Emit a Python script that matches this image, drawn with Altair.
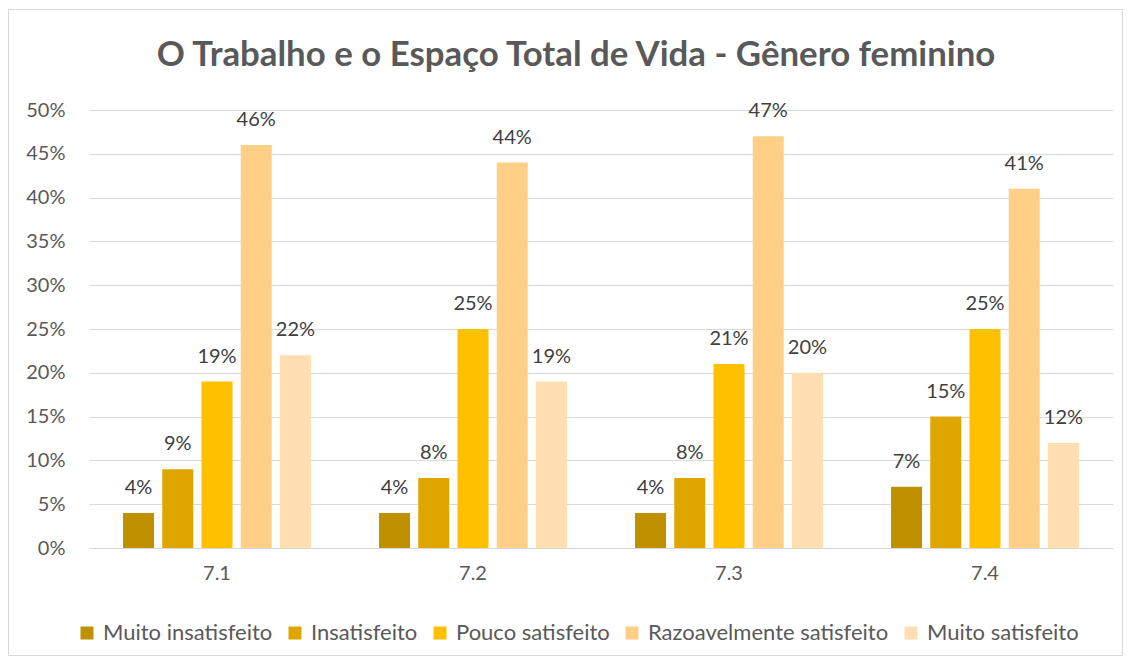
import altair as alt
import pandas as pd

FONT = "Lato"

groups = ["7.1", "7.2", "7.3", "7.4"]
categories = ["Muito insatisfeito", "Insatisfeito", "Pouco satisfeito",
              "Razoavelmente satisfeito", "Muito satisfeito"]
colors = ["#BF9000", "#DFA600", "#FFC000", "#FFCF87", "#FFDFB2"]
title_text = "O Trabalho e o Espaço Total de Vida - Gênero feminino"

muito_insatisfeito = [0.04, 0.04, 0.04, 0.07]
insatisfeito = [0.09, 0.08, 0.08, 0.15]
pouco_satisfeito = [0.19, 0.25, 0.21, 0.25]
razoavelmente_satisfeito = [0.46, 0.44, 0.47, 0.41]
muito_satisfeito = [0.22, 0.19, 0.20, 0.12]

series = [muito_insatisfeito, insatisfeito, pouco_satisfeito,
          razoavelmente_satisfeito, muito_satisfeito]

rows = []
for cat, vals in zip(categories, series):
    for g, v in zip(groups, vals):
        rows.append({"grupo": g, "categoria": cat, "valor": v})
df = pd.DataFrame(rows)

base = alt.Chart(df).encode(
    x=alt.X("grupo:N", sort=groups,
            scale=alt.Scale(paddingInner=0.266, paddingOuter=0.133),
            axis=alt.Axis(title=None, labelAngle=0, ticks=False,
                          domainColor="#d9d9d9", domainWidth=1,
                          labelFontSize=20, labelColor="#595959",
                          labelFont=FONT, labelPadding=15)),
    xOffset=alt.XOffset("categoria:N", sort=categories,
                        scale=alt.Scale(paddingInner=0.21, paddingOuter=0)),
)

bars = base.mark_bar().encode(
    y=alt.Y("valor:Q", scale=alt.Scale(domain=[0, 0.5], nice=False),
            axis=alt.Axis(title=None, format=".0%",
                          values=[0, 0.05, 0.1, 0.15, 0.2, 0.25, 0.3, 0.35, 0.4, 0.45, 0.5],
                          ticks=False, domain=False, gridColor="#d9d9d9",
                          labelFontSize=20, labelColor="#595959",
                          labelFont=FONT, labelPadding=24)),
    color=alt.Color("categoria:N", sort=categories,
                    scale=alt.Scale(domain=categories, range=colors),
                    legend=alt.Legend(title=None, orient="none",
                                      legendX=-13, legendY=512,
                                      direction="horizontal",
                                      symbolType="square", symbolSize=169,
                                      symbolStrokeWidth=0,
                                      labelFontSize=22, labelColor="#595959",
                                      labelFont=FONT, labelOffset=5,
                                      labelLimit=400,
                                      columnPadding=11)),
)

labels = base.mark_text(dy=-19, baseline="alphabetic", fontSize=20,
                        color="#404040", font=FONT).encode(
    y=alt.Y("valor:Q"),
    text=alt.Text("valor:Q", format=".0%"),
)

frame = alt.Chart(pd.DataFrame({"a": [0]})).mark_rect(
    fill=None, stroke="#d9d9d9", strokeWidth=1
).encode(
    x=alt.value(-80.5), x2=alt.value(1033.5),
    y=alt.value(-100.5), y2=alt.value(545.5),
)

title = alt.Chart(pd.DataFrame({"t": [title_text]})).mark_text(
    fontSize=34.8, font=FONT, fontWeight="bold", color="#595959",
    align="center", baseline="alphabetic"
).encode(
    text="t:N", x=alt.value(487), y=alt.value(-44),
)

chart = alt.layer(frame, bars, labels, title).properties(
    width=1024, height=438,
    padding={"left": 81, "top": 102, "right": 10, "bottom": 108},
    autosize=alt.AutoSizeParams(type="none"),
).configure_view(stroke=None)

chart.save("out.html", embed_options={"renderer": "svg", "actions": False})
